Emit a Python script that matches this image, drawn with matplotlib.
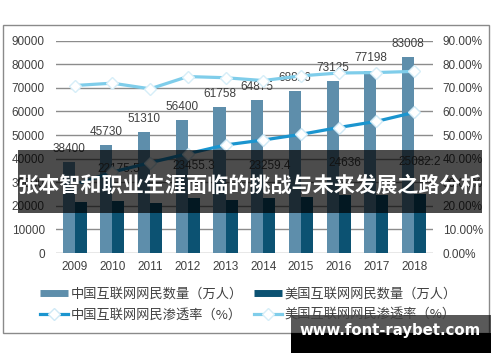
import matplotlib
matplotlib.use('Agg')
import matplotlib.pyplot as plt
from matplotlib.patches import Rectangle
from matplotlib.lines import Line2D
import numpy as np

years = ['2009', '2010', '2011', '2012', '2013', '2014', '2015', '2016', '2017', '2018']
cn_users = [38400, 45730, 51310, 56400, 61758, 64875, 68826, 73125, 77198, 83008]
us_users = [21500, 22175.5, 21400, 23455.3, 22500, 23259.4, 23700, 24636, 24700, 25082.2]
cn_rate = [28.9, 34.3, 38.3, 42.1, 45.8, 47.9, 50.3, 53.2, 55.8, 59.6]
us_rate = [71.0, 72.0, 69.6, 74.8, 74.3, 73.1, 75.1, 76.3, 76.5, 77.0]
us_label_years = ['2010', '2012', '2014', '2016', '2018']
left_ticks = [0, 10000, 20000, 30000, 40000, 50000, 60000, 70000, 80000, 90000]
right_ticks = [0, 10, 20, 30, 40, 50, 60, 70, 80, 90]
legend_labels = ['中国互联网网民数量（万人）', '美国互联网网民数量（万人）',
                 '中国互联网网民渗透率（%）', '美国互联网网民渗透率（%）']
title = '张本智和职业生涯面临的挑战与未来发展之路分析'
watermark = 'www.font-raybet.com'

CJK = ['Noto Sans CJK SC', 'DejaVu Sans']
NUM = ['Liberation Sans', 'DejaVu Sans']

c_cn_bar = '#5e8eab'
c_us_bar = '#0c5272'
c_cn_line = '#1b95cf'
c_us_line = '#7fcdea'
c_text = '#404040'
c_grid = '#8c8c8c'

W, H = 500, 362
fig = plt.figure(figsize=(W / 100, H / 100), dpi=100)
fig.patch.set_facecolor('white')

def fx(x):
    return x / W

def fy(y):
    return 1 - y / H

L, R, T, B = 55.8, 433, 40.7, 253
ax = fig.add_axes([fx(L), fy(B), (R - L) / W, (B - T) / H])
x = np.arange(len(years))
bw = 0.32
ax.bar(x - bw / 2, cn_users, width=bw, color=c_cn_bar, zorder=2)
ax.bar(x + bw / 2, us_users, width=bw, color=c_us_bar, zorder=2)
ax.set_xlim(-0.5, len(years) - 0.5)
ax.set_ylim(0, 90000)
ax.set_yticks(left_ticks)
ax.set_yticklabels([str(v) for v in left_ticks], family=NUM, fontsize=8.5, color=c_text)
ax.set_xticks(x)
ax.set_xticklabels(years, family=NUM, fontsize=8.5, color=c_text)
ax.tick_params(axis='both', length=0)
ax.tick_params(axis='y', pad=8)
ax.tick_params(axis='x', pad=6)
ax.grid(axis='y', color=c_grid, lw=1, zorder=0)
for s in ax.spines.values():
    s.set_visible(False)

for i, v in enumerate(cn_users):
    ax.annotate(f'{v}', (x[i] - bw / 2, v), xytext=(0, 5), textcoords='offset points',
                ha='center', va='bottom', fontsize=8.5, color=c_text, family=NUM, zorder=3)
for i, v in enumerate(us_users):
    if years[i] in us_label_years:
        ax.text(x[i] + bw / 2, v + 13500, f'{v:g}', ha='center', va='center', fontsize=8.5,
                color=c_text, family=NUM, zorder=3)

ax2 = ax.twinx()
ax2.set_ylim(0, 90)
ax2.set_yticks(right_ticks)
ax2.set_yticklabels([f'{v:.2f}%' for v in right_ticks], family=NUM, fontsize=8.5, color=c_text)
ax2.tick_params(axis='y', length=0, pad=7)
for s in ax2.spines.values():
    s.set_visible(False)
mk = dict(marker='D', markersize=6.5, markerfacecolor='white', markeredgewidth=1.0)
ax2.plot(x, cn_rate, color=c_cn_line, lw=2.3, markeredgecolor='#cfe9f6', zorder=4, **mk)
ax2.plot(x, us_rate, color=c_us_line, lw=2.3, markeredgecolor='#d6eef8', zorder=4, **mk)

# legend (column-major fill: col1 = China, col2 = US)
h_cn_bar = Line2D([], [], color=c_cn_bar, lw=5, solid_capstyle='butt')
h_us_bar = Line2D([], [], color=c_us_bar, lw=5, solid_capstyle='butt')
h_cn_line = Line2D([], [], color=c_cn_line, lw=2.3, markeredgecolor='#cfe9f6', **mk)
h_us_line = Line2D([], [], color=c_us_line, lw=2.3, markeredgecolor='#d6eef8', **mk)
handles = [h_cn_bar, h_cn_line, h_us_bar, h_us_line]
labels = [legend_labels[0], legend_labels[2], legend_labels[1], legend_labels[3]]
fig.legend(handles, labels, loc='upper left', bbox_to_anchor=(fx(40), fy(288)),
           ncol=2, frameon=False, prop={'family': CJK, 'size': 9.5}, labelcolor=c_text,
           borderpad=0, borderaxespad=0, handlelength=2.1, handletextpad=0.2,
           columnspacing=0.9, labelspacing=0.6)

# outer border
fig.add_artist(Rectangle((fx(3), fy(333)), (489 - 3) / W, (333 - 25) / H,
                         transform=fig.transFigure, fill=False, edgecolor='#8a8a8a',
                         lw=1, zorder=1))

# title banner
fig.add_artist(Rectangle((fx(18), fy(213)), (482 - 18) / W, (213 - 150) / H,
                         transform=fig.transFigure, facecolor='black', alpha=0.7,
                         edgecolor='none', zorder=5))
fig.text(fx(250), fy(185), title, ha='center', va='center', color='white',
         fontsize=15.2, fontweight='bold', family=CJK, zorder=6)

# watermark box
fig.add_artist(Rectangle((fx(291), fy(333)), (491 - 291) / W, (333 - 315) / H,
                         transform=fig.transFigure, facecolor='black', alpha=0.65,
                         edgecolor='none', zorder=5))
fig.add_artist(Rectangle((fx(291), fy(353)), (491 - 291) / W, (353 - 333) / H,
                         transform=fig.transFigure, facecolor='black',
                         edgecolor='none', zorder=5))
fig.text(fx(390), fy(330), watermark, ha='center', va='center', color='white',
         fontsize=10.7, fontweight='bold', family=['DejaVu Sans'], zorder=6)

fig.savefig('out.png', dpi=100, facecolor='white')
